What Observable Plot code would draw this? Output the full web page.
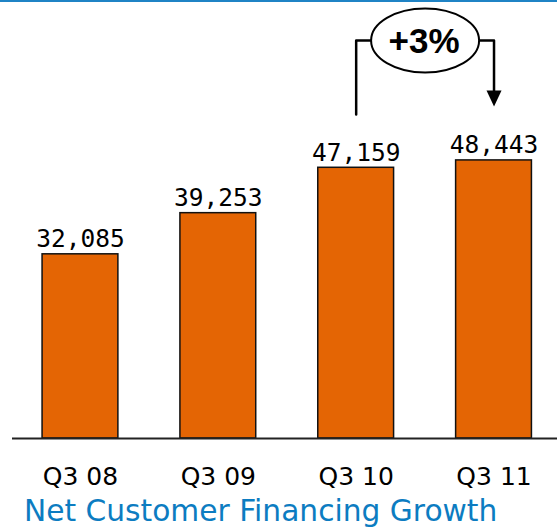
<!DOCTYPE html>
<html><head><meta charset="utf-8">
<script src="https://cdn.jsdelivr.net/npm/d3@7"></script>
<script src="https://cdn.jsdelivr.net/npm/@observablehq/plot@0.6"></script>
<style>
body{margin:0;background:#fff;width:557px;height:527px;overflow:hidden;position:relative;}
#topline{position:absolute;left:0;top:0;width:557px;height:2px;background:#1F83C5;}
#chart svg{display:block;}
#title{font-family:"DejaVu Sans";font-size:29.7px;line-height:32px;color:#0C7CC1;padding-left:24px;white-space:nowrap;}
</style></head><body>
<div id="chart"></div>
<div id="title"></div>
<div id="topline"></div>
<script>
const categories = ["Q3 08", "Q3 09", "Q3 10", "Q3 11"];
const values = [32085, 39253, 47159, 48443];
const valueLabels = ["32,085", "39,253", "47,159", "48,443"];
const titleText = "Net Customer Financing Growth";
const growthFrom = "Q3 10";
const growthTo = "Q3 11";
const growthLabel = "+3%";
const bracketTop = 69350;
const bracketLeftBottom = 56450;
const arrowLineEnd = 59600;
const arrowTip = 57850;

const data = categories.map((c, i) => ({cat: c, value: values[i], label: valueLabels[i]}));

const xRange = [14.5, 559];
const padIn = 0.45, padOut = 0.2;
const step = (xRange[1] - xRange[0]) / (categories.length - padIn + 2 * padOut);

const ellipseSymbol = {
  draw(ctx) {
    const rx = 54, ry = 32, k = 0.5523;
    ctx.moveTo(-rx, 0);
    ctx.bezierCurveTo(-rx, -ry * k, -rx * k, -ry, 0, -ry);
    ctx.bezierCurveTo(rx * k, -ry, rx, -ry * k, rx, 0);
    ctx.bezierCurveTo(rx, ry * k, rx * k, ry, 0, ry);
    ctx.bezierCurveTo(-rx * k, ry, -rx, ry * k, -rx, 0);
    ctx.closePath();
  }
};
const arrowSymbol = {
  draw(ctx) {
    ctx.moveTo(0, 0);
    ctx.lineTo(-7.5, -16);
    ctx.lineTo(7.5, -16);
    ctx.closePath();
  }
};

const bracket = [
  {x: growthFrom, y: bracketLeftBottom},
  {x: growthFrom, y: bracketTop},
  {x: growthTo, y: bracketTop},
  {x: growthTo, y: arrowLineEnd}
];

const chart = Plot.plot({
  width: 557,
  height: 495,
  marginTop: 0,
  marginBottom: 57,
  marginLeft: 12,
  marginRight: 0,
  style: {fontFamily: "DejaVu Sans", fontSize: "25px", color: "#000", background: "transparent"},
  x: {domain: categories, range: xRange, paddingInner: padIn, paddingOuter: padOut, round: false, label: null},
  y: {domain: [0, 76300], axis: null},
  marks: [
    Plot.barY(data, {x: "cat", y: "value", fill: "#E46504", stroke: "#111", strokeWidth: 1.5}),
    Plot.ruleY([0], {stroke: "#222", strokeWidth: 2}),
    Plot.axisX({tickSize: 0, tickPadding: 29, fontSize: 25, fill: "#000", label: null}),
    Plot.text(data, {x: "cat", y: "value", text: "label", lineAnchor: "bottom", dy: -7, fontFamily: "DejaVu Sans Mono", fontSize: 24.5, fill: "#000"}),
    Plot.line(bracket, {x: "x", y: "y", stroke: "#000", strokeWidth: 2.5, curve: "linear"}),
    Plot.dot([{x: growthTo, y: arrowTip}], {x: "x", y: "y", symbol: arrowSymbol, r: 8, fill: "#000", stroke: "none"}),
    Plot.dot([{x: growthFrom, y: bracketTop}], {x: "x", y: "y", dx: step / 2, symbol: ellipseSymbol, r: 30, fill: "#fff", stroke: "#000", strokeWidth: 2}),
    Plot.text([{x: growthFrom, y: bracketTop, t: growthLabel}], {x: "x", y: "y", text: "t", dx: step / 2 - 1, dy: 1, fontFamily: "Liberation Sans", fontWeight: "bold", fontSize: 35, fill: "#000"})
  ]
});
document.getElementById("chart").appendChild(chart);
document.getElementById("title").textContent = titleText;
</script>
</body></html>
